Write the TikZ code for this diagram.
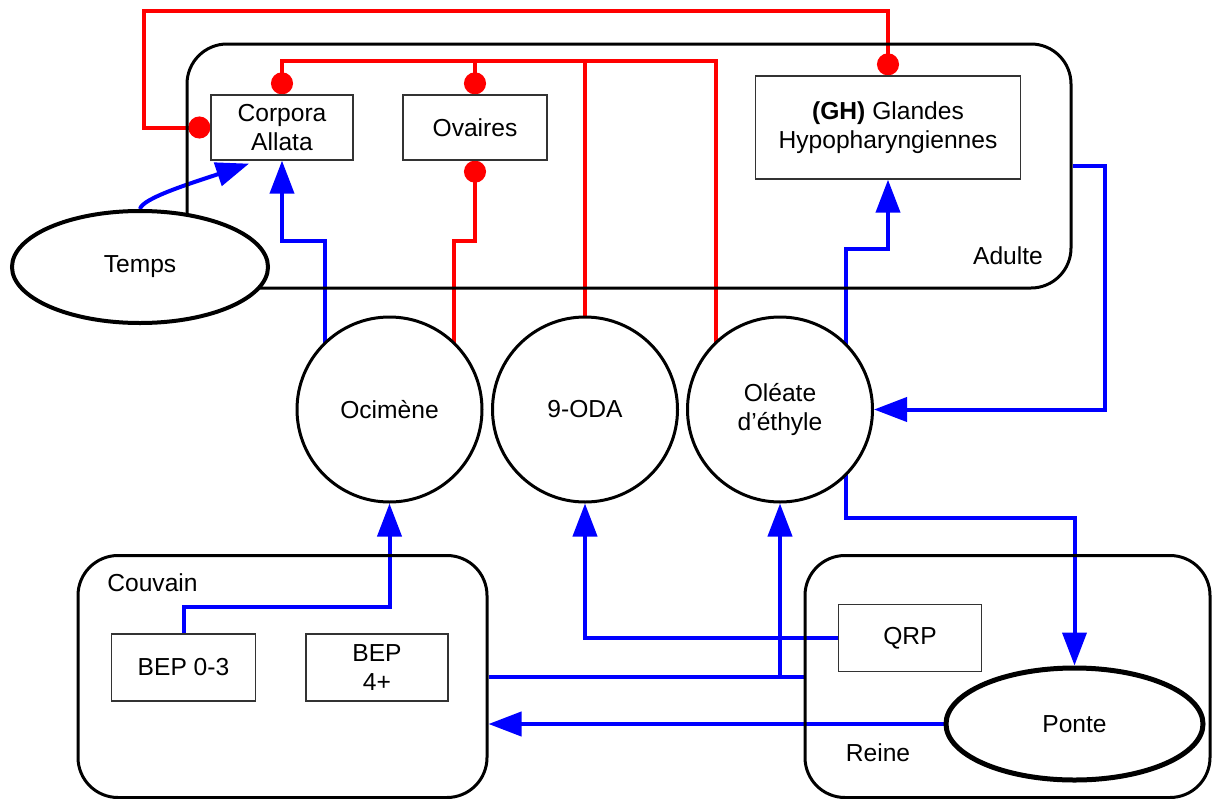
\documentclass[tikz,border=0pt]{standalone}
\usepackage{fontspec}
\setmainfont{Liberation Sans}
\usetikzlibrary{arrows.meta,shapes.geometric,calc}
\pgfdeclarelayer{bg}
\pgfsetlayers{bg,main}
\definecolor{myblue}{RGB}{0,0,255}
\definecolor{myred}{RGB}{255,0,0}
\begin{document}
\begin{tikzpicture}[x=1pt,y=-1pt,
  font=\fontsize{24.6}{29}\selectfont,
  grp/.style={draw=black, line width=3pt, rounded corners=40pt, inner sep=0pt},
  sb/.style={draw=black!80, line width=1.3pt, fill=white, inner sep=0pt, align=center},
  blob/.style={ellipse, draw=black, line width=3pt, fill=white, inner sep=0pt, align=center},
  bl/.style={draw=myblue, line width=4pt, -{Triangle[length=33pt,width=24pt]}},
  bline/.style={draw=myblue, line width=4pt},
  rd/.style={draw=myred, line width=4pt, -{Circle[length=22pt,width=22pt]}},
  rdd/.style={draw=myred, line width=4pt, {Circle[length=22pt,width=22pt]}-{Circle[length=22pt,width=22pt]}},
  rline/.style={draw=myred, line width=4pt},
  lbl/.style={inner sep=0pt}]
\useasboundingbox (0,0) rectangle (1213,798);

% groups
\node[grp, minimum width=884pt, minimum height=244pt] (Adulte) at (629,166) {};
\node[grp, minimum width=409pt, minimum height=242pt] (Couvain) at (282.5,676.5) {};
\node[grp, minimum width=405pt, minimum height=242pt] (Reine) at (1007.5,676.5) {};

\node[lbl] (lAd) at (1008,256) {Adulte};
\node[lbl] (lCo) at (152.5,583) {Couvain};
\node[lbl] (lRe) at (878,753) {Reine};

% boxes
\node[sb, minimum width=142pt, minimum height=65pt] (CA) at (282,127.5) {Corpora\\Allata};
\node[sb, minimum width=144pt, minimum height=65pt] (Ov) at (475,127.5) {Ovaires};
\node[sb, minimum width=265pt, minimum height=103pt] (GH) at (888,127.5) {{\bfseries (GH)} Glandes\\Hypopharyngiennes};
\node[sb, minimum width=144pt, minimum height=67pt] (B03) at (183.5,667.5) {BEP 0-3};
\node[sb, minimum width=142pt, minimum height=67pt] (B4) at (377,667.5) {BEP\\4+};
\node[sb, minimum width=143pt, minimum height=67pt] (QRP) at (910,638) {QRP};

% ellipses
\node[blob, line width=4pt, minimum width=256pt, minimum height=112pt] (Temps) at (140,267) {Temps};
\node[blob, minimum width=185pt, minimum height=185pt] (Oci) at (389.5,409.5) {Ocimène};
\node[blob, minimum width=185pt, minimum height=185pt] (ODA) at (585,409.5) {9-ODA};
\node[blob, minimum width=185pt, minimum height=185pt] (Ole) at (780,409.5) {Oléate\\d’éthyle};
\node[blob, line width=5pt, minimum width=257pt, minimum height=112pt] (Ponte) at (1074.5,724) {Ponte};

\coordinate (bus) at (0,61);
\coordinate (top) at (0,11);

\begin{pgfonlayer}{bg}
% red
\draw[rd] ($(Ole.center)+(-64.5,0)$) |- (CA.north |- bus) -- (CA.north);
\draw[rd] (Ov.north |- bus) -- (Ov.north);
\draw[rline] (ODA.center) -- (ODA.center |- bus);
\draw[rd] ($(Oci.center)+(64.5,0)$) |- ($(Ov.south)+(0,80)$) -- (Ov.south);
\draw[rdd] (CA.west) -- (144,127.5) |- (GH.north |- top) -- (GH.north);
% blue
\draw[bl] (Temps.north) .. controls (142,198) and (195,182) .. ($(CA.south)+(-33,3)$);
\draw[bl] ($(Oci.center)+(-64.5,0)$) |- ($(CA.south)+(0,80)$) -- (CA.south);
\draw[bl] ($(Ole.center)+(65.5,0)$) |- ($(GH.south)+(0,69)$) -- (GH.south);
\draw[bl] (Adulte.east) -- ++(32,0) |- (Ole.east);
\draw[bl] ($(Ole.center)+(65.5,0)$) |- ($(Ponte.north)+(0,-148)$) -- (Ponte.north);
\draw[bl] (B03.north) -- ++(0,-26) -| (Oci.south);
\draw[bl] (QRP.west) -| (ODA.south);
\draw[bline] (Couvain.east) -- (Reine.west);
\draw[bl] (Ole.south |- Couvain.east) -- (Ole.south);
\draw[bl] (Ponte.west) -- (Couvain.east |- Ponte.west);
\end{pgfonlayer}
\end{tikzpicture}
\end{document}
